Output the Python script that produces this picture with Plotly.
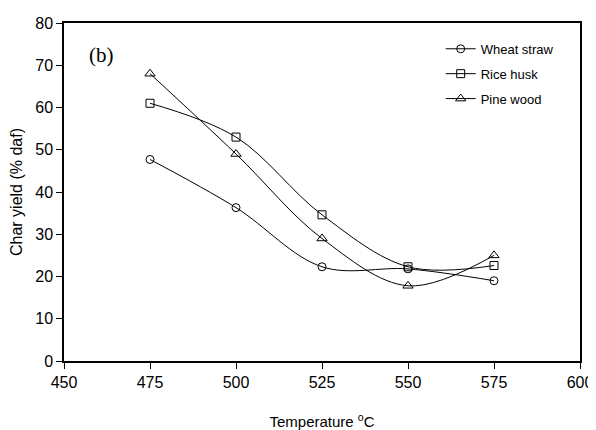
import plotly.graph_objects as go

temps = [475, 500, 525, 550, 575]
wheat_straw = [47.7, 36.3, 22.3, 21.8, 19.0]
rice_husk = [61.0, 53.0, 34.6, 22.3, 22.6]
pine_wood = [68.0, 49.0, 29.0, 17.8, 25.0]

series = [
    ("Wheat straw", wheat_straw, "circle-open", 8),
    ("Rice husk", rice_husk, "square-open", 8),
    ("Pine wood", pine_wood, "triangle-up-open", 9),
]

fig = go.Figure()
for name, ys, sym, sz in series:
    fig.add_trace(go.Scatter(
        x=temps, y=ys, name=name, mode="lines+markers", legendgroup=name,
        line=dict(color="black", width=1, shape="spline", smoothing=1.0),
        marker=dict(symbol=sym, size=sz, color="black", line=dict(width=1, color="black")),
    ))

fig.add_annotation(x=0.045, y=0.905, xref="paper", yref="paper", text="(b)",
                   showarrow=False, xanchor="left", yanchor="middle",
                   font=dict(family="Liberation Serif", size=21, color="black"))

axis_common = dict(showline=True, linecolor="black", linewidth=1.5, mirror=True,
                   ticks="outside", ticklen=6, tickcolor="black", tickwidth=1,
                   showgrid=False, zeroline=False, automargin=False,
                   tickfont=dict(family="Liberation Sans", size=16, color="black"))

# page body has an 8px default margin, so the figure is sized to fit
fig.update_layout(
    width=588, height=422,
    margin=dict(l=56, r=16, t=15, b=69),
    plot_bgcolor="white", paper_bgcolor="white",
    showlegend=True,
    legend=dict(x=0.73, y=0.968, xanchor="left", yanchor="top",
                bgcolor="rgba(0,0,0,0)", font=dict(family="Liberation Sans", size=13, color="black"),
                itemwidth=30, tracegroupgap=5),
    xaxis=dict(range=[450, 600], tickvals=[450, 475, 500, 525, 550, 575, 600],
               title=dict(text="Temperature <sup>o</sup>C", standoff=30,
                          font=dict(family="Liberation Sans", size=15, color="black")),
               **axis_common),
    yaxis=dict(range=[0, 80], tickvals=[0, 10, 20, 30, 40, 50, 60, 70, 80],
               title=dict(text="Char yield (% daf)", standoff=12,
                          font=dict(family="Liberation Sans", size=16, color="black")),
               **axis_common),
)

fig.write_html("out.html")
